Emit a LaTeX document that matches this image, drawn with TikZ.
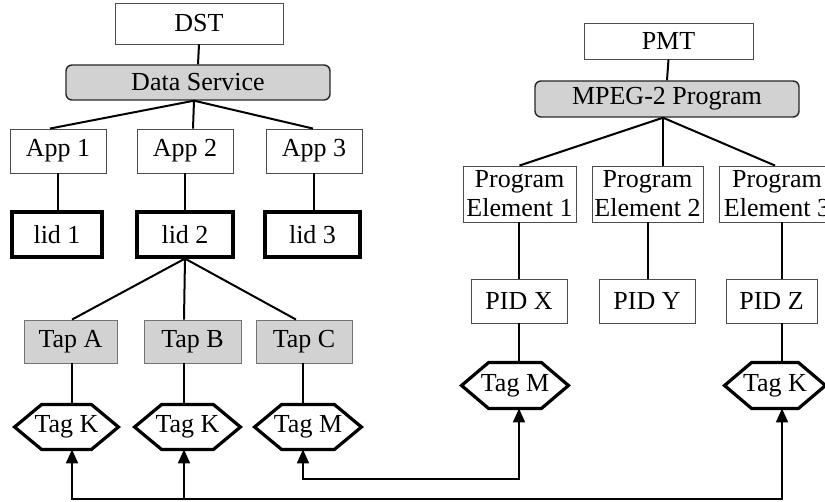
\documentclass[tikz,border=0pt]{standalone}
\usepackage{fontspec}
\setmainfont{Liberation Serif}
\usetikzlibrary{arrows.meta}
\begin{document}
\begin{tikzpicture}[x=1pt,y=-1pt,
  box/.style={draw=black!70, line width=0.9pt, minimum width=96pt, minimum height=44pt,
    inner sep=0pt, font=\fontsize{26}{29}\selectfont, fill=white, align=center},
  lidbox/.style={box, draw=black, line width=3.2pt},
  shadebox/.style={box, fill=gray!35, draw=black!55},
  svc/.style={shadebox, rounded corners=6pt, draw=black!85, line width=1.4pt,
    minimum width=264pt, minimum height=36pt},
  hexnode/.style={box, draw=none, fill=none, minimum height=44pt},
  hexline/.style={line width=3.2pt, line join=miter},
  conn/.style={line width=2pt},
  arr/.style={conn, -{Triangle[width=12pt,length=14pt]}},
]
\useasboundingbox (0,0) rectangle (825,502);
\clip (0,0) rectangle (825,502);

% left tree
\node[box, minimum width=168pt, minimum height=41pt] (DST) at (199,23.5) {DST};
\node[svc, minimum height=35pt] (DS) at (198,82.5) {Data Service};
\node[box] (A1) at (58,151) {App 1};
\node[box] (A2) at (185,151) {App 2};
\node[box] (A3) at (314,151) {App 3};
\node[lidbox, minimum width=90pt, minimum height=45pt] (L1) at (57,234.5) {lid 1};
\node[lidbox, minimum height=45pt] (L2) at (185,234.5) {lid 2};
\node[lidbox, minimum width=95pt, minimum height=45pt] (L3) at (312.5,234.5) {lid 3};
\node[shadebox, minimum width=93pt, minimum height=43pt] (TA) at (70.5,341.5) {Tap A};
\node[shadebox, minimum width=97pt, minimum height=43pt] (TB) at (192.5,341.5) {Tap B};
\node[shadebox, minimum height=43pt] (TC) at (304,341.5) {Tap C};
\node[hexnode, minimum width=103pt] (TK1) at (66.5,427) {Tag K};
\node[hexnode, minimum width=105pt] (TK2) at (187.5,427) {Tag K};
\node[hexnode, minimum width=106pt] (TM1) at (308,427) {Tag M};

% right tree
\node[box, minimum width=169pt, minimum height=36pt] (PMT) at (668.5,41) {PMT};
\node[svc] (MP) at (667,99) {MPEG-2 Program};
\node[box, minimum width=113pt, minimum height=56pt] (PE1) at (519.5,194) {Program\\Element 1};
\node[box, minimum width=111pt, minimum height=56pt] (PE2) at (647.5,194) {Program\\Element 2};
\node[box, minimum width=116pt, minimum height=56pt] (PE3) at (777,194) {Program\\Element 3};
\node[box] (PX) at (519,301) {PID X};
\node[box] (PY) at (647,301) {PID Y};
\node[box, minimum width=91pt] (PZ) at (771.5,301) {PID Z};
\node[hexnode, minimum width=106pt, minimum height=45pt] (TM2) at (515,385.5) {Tag M};
\node[hexnode, minimum width=100pt, minimum height=45pt] (TK3) at (775,385.5) {Tag K};

% hexagon outlines
\foreach \n in {TK1,TK2,TM1,TM2,TK3}
  \draw[hexline] (\n.west) -- ([xshift=27pt]\n.north west) -- ([xshift=-27pt]\n.north east)
    -- (\n.east) -- ([xshift=-27pt]\n.south east) -- ([xshift=27pt]\n.south west) -- cycle;

% column coordinates
\coordinate (xA) at (72,0);
\coordinate (xB) at (184,0);
\coordinate (xC) at (303,0);
\coordinate (x1) at (519,0);
\coordinate (x2) at (648,0);
\coordinate (x3) at (782,0);

% left connectors
\draw[conn] (DST.south) -- (DS.north);
\draw[conn] ([xshift=-4pt]DS.south) -- ([xshift=-8pt]A1.north);
\draw[conn] ([xshift=-4pt]DS.south) -- ([xshift=8pt]A2.north);
\draw[conn] ([xshift=-4pt]DS.south) -- ([xshift=-1pt]A3.north);
\draw[conn] (A1.south) -- (A1.south |- L1.north);
\draw[conn] (A2.south) -- (A2.south |- L2.north);
\draw[conn] (A3.south) -- (A3.south |- L3.north);
\draw[conn] (L2.south) -- (TA.north -| xA);
\draw[conn] (L2.south) -- (TB.north -| xB);
\draw[conn] (L2.south) -- ([xshift=-8pt]TC.north);
\draw[conn] (TA.south -| xA) -- (TK1.north -| xA);
\draw[conn] (TB.south -| xB) -- (TK2.north -| xB);
\draw[conn] (TC.south -| xC) -- (TM1.north -| xC);

% right connectors
\draw[conn] (PMT.south) -- (MP.north);
\draw[conn] ([xshift=-4pt]MP.south) -- (PE1.north);
\draw[conn] ([xshift=-4pt]MP.south) -- ([xshift=15.5pt]PE2.north);
\draw[conn] ([xshift=-4pt]MP.south) -- ([xshift=-2pt]PE3.north);
\draw[conn] (PE1.south -| x1) -- (PX.north -| x1);
\draw[conn] (PX.south -| x1) -- (TM2.north -| x1);
\draw[conn] (PE2.south -| x2) -- (PY.north -| x2);
\draw[conn] (PE3.south -| x3) -- (PZ.north -| x3);
\draw[conn] (PZ.south -| x3) -- (TK3.north -| x3);

% reference arrows
\coordinate (bA) at (72,499);
\coordinate (bB) at (184,499);
\coordinate (b3) at (782,499);
\coordinate (mC) at (303,479);
\coordinate (m1) at (519,479);
\draw[conn, line cap=rect] (bA) -- (b3);
\draw[conn, line cap=rect] (mC) -- (m1);
\draw[arr] (bA) -- (bA |- TK1.south);
\draw[arr] (bB) -- (bB |- TK2.south);
\draw[arr] (b3) -- (b3 |- TK3.south);
\draw[arr] (mC) -- (mC |- TM1.south);
\draw[arr] (m1) -- (m1 |- TM2.south);
\end{tikzpicture}
\end{document}
